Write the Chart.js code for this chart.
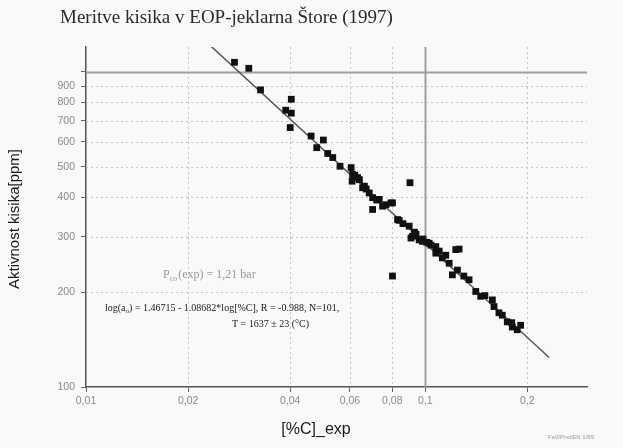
<!DOCTYPE html>
<html><head><meta charset="utf-8">
<script src="https://cdn.jsdelivr.net/npm/chart.js@4/dist/chart.umd.min.js"></script>
<style>html,body{margin:0;padding:0;background:#f9f9f9}#wrap{width:623px;height:448px}</style>
</head><body><div id="wrap"><canvas id="c" width="623" height="448"></canvas></div>
<script>
// ---- data ----
const carbonPct = [0.0274,0.0302,0.0327,0.0403,0.0388,0.0403,0.0400,0.0461,0.0501,0.0479,0.0516,0.0534,0.0561,0.0605,0.0611,0.0609,0.0632,0.0662,0.0684,0.0700,0.0732,0.0766,0.0801,0.0700,0.0749,0.0902,0.0838,0.0897,0.0918,0.0960,0.1027,0.1075,0.0654,0.0793,0.0829,0.0908,0.0982,0.1075,0.1124,0.1231,0.1259,0.1177,0.1245,0.1203,0.1347,0.1410,0.1458,0.1578,0.1596,0.1688,0.1746,0.1807,0.1912,0.1868,0.0801,0.0620,0.0640,0.0940,0.0985,0.1010,0.1040,0.1100,0.1150,0.1300,0.1500,0.1650,0.1800,0.0670,0.0720,0.0860,0.0930];
const oxygenPpm = [1073,1027,877,819,756,740,666,626,608,575,551,535,502,497,473,450,462,434,413,399,394,379,384,366,375,445,338,324,301,293,286,279,429,384,340,297,290,266,257,273,274,247,235,227,219,201,194,189,180,169,161,155,157,152,225,470,455,305,295,288,282,270,262,225,195,172,160,425,392,330,310];
const fitX = [0.0234, 0.232];
const fitY = [1205, 124];
const xTickValues = [0.01,0.02,0.04,0.06,0.08,0.1,0.2];
const xTickLabels = ['0,01','0,02','0,04','0,06','0,08','0,1','0,2'];
const yTickValues = [100,200,300,400,500,600,700,800,900,1000];
const yTickLabels = ['100','200','300','400','500','600','700','800','900',''];
const chartTitle = 'Meritve kisika v EOP-jeklarna Štore (1997)';
const yTitle = 'Aktivnost kisika[ppm]';
const xTitle = '[%C]_exp';

const points = carbonPct.map((x,i)=>({x:x,y:oxygenPpm[i]}));
const fitLine = fitX.map((x,i)=>({x:x,y:fitY[i]}));

const gridPlugin = {
  id:'customGrid',
  beforeDatasetsDraw(chart){
    const {ctx, chartArea:a, scales:{x,y}} = chart;
    ctx.save();
    ctx.beginPath(); ctx.rect(a.left,a.top,a.right-a.left,a.bottom-a.top); ctx.clip();
    xTickValues.forEach(v=>{
      if(v===0.01) return;
      const px = Math.round(x.getPixelForValue(v))+0.5;
      ctx.beginPath();
      if(v===0.1){ctx.setLineDash([]);ctx.strokeStyle='#a0a0a0';ctx.lineWidth=2;}
      else{ctx.setLineDash([2,3]);ctx.strokeStyle='#c4c4c4';ctx.lineWidth=1;}
      ctx.moveTo(px,a.top); ctx.lineTo(px,a.bottom); ctx.stroke();
    });
    yTickValues.forEach(v=>{
      if(v===100) return;
      const py = Math.round(y.getPixelForValue(v))+0.5;
      ctx.beginPath();
      if(v===1000){ctx.setLineDash([]);ctx.strokeStyle='#a0a0a0';ctx.lineWidth=2;}
      else{ctx.setLineDash([2,3]);ctx.strokeStyle='#c4c4c4';ctx.lineWidth=1;}
      ctx.moveTo(a.left,py); ctx.lineTo(a.right,py); ctx.stroke();
    });
    ctx.restore();
  },
  afterDraw(chart){
    const ctx = chart.ctx;
    ctx.save();
    ctx.fillStyle='#2a2a2a';
    ctx.font='19px "Liberation Serif", "Times New Roman", serif';
    ctx.textBaseline='middle'; ctx.textAlign='left';
    ctx.fillText(chartTitle, 60, 18);
    // y title
    ctx.save();
    ctx.translate(15,219); ctx.rotate(-Math.PI/2);
    ctx.textAlign='center'; ctx.fillStyle='#1a1a1a';
    ctx.font='15px "Liberation Sans", Arial, sans-serif';
    ctx.fillText(yTitle,0,0);
    ctx.restore();
    // x title
    ctx.textAlign='center'; ctx.fillStyle='#1a1a1a';
    ctx.font='16px "Liberation Sans", Arial, sans-serif';
    ctx.fillText(xTitle,316,430);
    // annotations
    ctx.textAlign='left';
    ctx.fillStyle='#9a9a9a';
    ctx.font='12px "Liberation Serif", serif';
    ctx.fillText('P', 163, 275);
    let w = ctx.measureText('P').width;
    ctx.font='8px "Liberation Serif", serif';
    ctx.fillText('co', 163+w, 279);
    let w2 = ctx.measureText('co').width;
    ctx.font='12px "Liberation Serif", serif';
    ctx.fillText('(exp) = 1,21 bar', 163+w+w2+1, 275);
    ctx.fillStyle='#1a1a1a';
    ctx.font='10px "Liberation Serif", serif';
    ctx.fillText('log(a', 105, 308);
    let w3 = ctx.measureText('log(a').width;
    ctx.font='7px "Liberation Serif", serif';
    ctx.fillText('o', 105+w3, 311);
    let w4 = ctx.measureText('o').width;
    ctx.font='10px "Liberation Serif", serif';
    ctx.fillText(') = 1.46715 - 1.08682*log[%C], R = -0.988, N=101,', 105+w3+w4, 308);
    ctx.fillText('T = 1637 \u00b1 23 (\u00b0C)', 232, 324);
    ctx.fillStyle='#999';
    ctx.font='6px "Liberation Sans", sans-serif';
    ctx.fillText('Fe0/PrezEN 1/99', 548, 437);
    ctx.restore();
  }
};

new Chart(document.getElementById('c'), {
  type:'scatter',
  data:{datasets:[
    {label:'meritve', data:points, pointStyle:'rect', pointRadius:4.8, pointHoverRadius:4.8,
     backgroundColor:'#111', borderColor:'#111', borderWidth:0, order:1},
    {label:'regresija', type:'line', data:fitLine, showLine:true, pointRadius:0,
     borderColor:'#555', borderWidth:1.5, fill:false, order:2}
  ]},
  options:{
    responsive:false, animation:false,
    layout:{padding:{left:0,right:36,top:47,bottom:0}},
    plugins:{legend:{display:false}, tooltip:{enabled:false}, title:{display:false}},
    scales:{
      x:{type:'logarithmic', min:0.01, max:0.3,
        afterBuildTicks(s){ s.ticks = xTickValues.map(v=>({value:v})); },
        afterFit(s){ s.height = 61; },
        ticks:{autoSkip:false, maxRotation:0, color:'#8a8a8a', padding:3,
          font:{size:10.5, family:'"Liberation Sans", Arial, sans-serif'},
          callback:(v,i)=>xTickLabels[i]},
        grid:{drawOnChartArea:false, drawTicks:true, tickLength:5, tickColor:'#666'},
        border:{display:true, color:'#555', width:1.5}
      },
      y:{type:'logarithmic', min:100, max:1200,
        afterBuildTicks(s){ s.ticks = yTickValues.map(v=>({value:v})); },
        afterFit(s){ s.width = 86; },
        ticks:{autoSkip:false, color:'#8a8a8a', padding:6,
          font:{size:10.5, family:'"Liberation Sans", Arial, sans-serif'},
          callback:(v,i)=>yTickLabels[i]},
        grid:{drawOnChartArea:false, drawTicks:true, tickLength:5, tickColor:'#666'},
        border:{display:true, color:'#555', width:1.5}
      }
    }
  },
  plugins:[gridPlugin]
});
</script></body></html>
